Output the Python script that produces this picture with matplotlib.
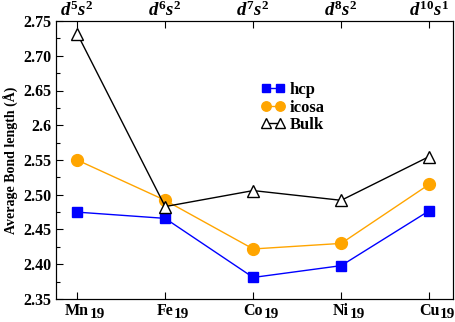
import matplotlib
matplotlib.use("Agg")
import matplotlib.pyplot as plt
from matplotlib.ticker import MultipleLocator

plt.rcParams['font.family'] = 'Liberation Serif'
plt.rcParams['font.weight'] = 'bold'
plt.rcParams['mathtext.fontset'] = 'custom'
plt.rcParams['mathtext.rm'] = 'Liberation Serif:bold'
plt.rcParams['mathtext.it'] = 'Liberation Serif:italic:bold'
plt.rcParams['mathtext.bf'] = 'Liberation Serif:bold'

# cluster symbols (subscript added separately), electronic configurations
clusters = ['Mn', 'Fe', 'Co', 'Ni', 'Cu']
cluster_size = '19'
configs = [r'$d^5s^2$', r'$d^6s^2$', r'$d^7s^2$', r'$d^8s^2$', r'$d^{10}s^1$']

hcp = [2.475, 2.466, 2.381, 2.398, 2.477]
icosa = [2.550, 2.492, 2.422, 2.430, 2.515]
bulk = [2.732, 2.483, 2.506, 2.492, 2.555]

x = list(range(len(clusters)))

fig = plt.figure(figsize=(4.55, 3.22), dpi=100)
ax = fig.add_axes([56/455, 1-299/322, (453-56)/455, (299-21)/322])

ax.plot(x, hcp, color='blue', marker='s', markersize=7.5, lw=1, label='hcp')
ax.plot(x, icosa, color='orange', marker='o', markersize=8.5, lw=1, label='icosa')
ax.plot(x, bulk, color='black', marker='^', markersize=8.5, mfc='white', mec='black',
        lw=1, label='Bulk')

ax.set_xlim(-0.24, 4.27)
ax.set_ylim(2.35, 2.75)
ax.set_xticks(x)
ax.set_xticklabels(clusters, fontsize=11.5)
ax.yaxis.set_minor_locator(MultipleLocator(0.025))
ax.set_yticks([2.35, 2.40, 2.45, 2.50, 2.55, 2.6, 2.65, 2.70, 2.75])
ax.set_yticklabels(['2.35', '2.40', '2.45', '2.50', '2.55', '2.6', '2.65', '2.70', '2.75'],
                   fontsize=11.5)
ax.tick_params(direction='in', length=5, width=0.8)
ax.tick_params(axis='x', pad=3)
ax.tick_params(which='minor', direction='in', length=3, width=0.8)
ax.set_ylabel('Average Bond length (Å)', fontsize=10, fontweight='bold', labelpad=3)

# subscript "19" after each cluster symbol
for lab in ax.get_xticklabels():
    ax.annotate(cluster_size, xy=(1, 0), xycoords=lab, xytext=(0.5, -1),
                textcoords='offset points', ha='left', va='bottom',
                fontsize=11, fontweight='bold', annotation_clip=False)

top = ax.twiny()
top.set_xlim(ax.get_xlim())
top.set_xticks(x)
top.set_xticklabels(configs, fontsize=13.5)
top.tick_params(direction='in', length=5, width=0.8, pad=1)

ax.legend(loc='upper left', bbox_to_anchor=(0.5, 0.805), frameon=False,
          fontsize=12, handlelength=1.4, handletextpad=0.3, labelspacing=0.1,
          borderaxespad=0, numpoints=2, markerscale=0.8)

fig.savefig('out.png', dpi=100)
